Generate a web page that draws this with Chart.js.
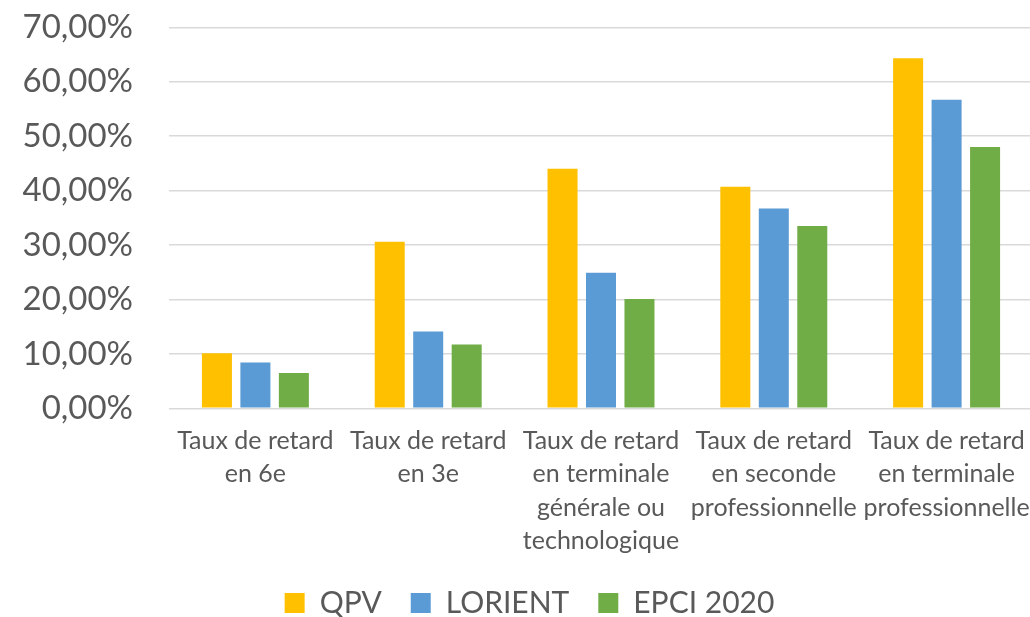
<!DOCTYPE html>
<html>
<head>
<meta charset="utf-8">
<script src="https://cdn.jsdelivr.net/npm/chart.js@4/dist/chart.umd.min.js"></script>
<style>
  html, body { margin: 0; padding: 0; background: #ffffff; overflow: hidden; }
  #wrap { width: 1034px; height: 617px; }
</style>
</head>
<body>
<div id="wrap"><canvas id="c" width="1034" height="617"></canvas></div>
<script>
const categories = [
  ["Taux de retard", "en 6e"],
  ["Taux de retard", "en 3e"],
  ["Taux de retard", "en terminale", "générale ou", "technologique"],
  ["Taux de retard", "en seconde", "professionnelle"],
  ["Taux de retard", "en terminale", "professionnelle"]
];
const seriesNames = ["QPV", "LORIENT", "EPCI 2020"];
const qpv = [10.1, 30.6, 44.0, 40.7, 64.3];
const lorient = [8.4, 14.1, 24.9, 36.7, 56.7];
const epci = [6.5, 11.7, 20.1, 33.5, 48.0];
const yTicks = [0, 10, 20, 30, 40, 50, 60, 70];

const colors = ["#FFC000", "#5B9BD5", "#70AD47"];
const textColor = "#595959";
const fontFamily = "Lato, 'Open Sans', sans-serif";

const legendShift = {
  id: 'legendShift',
  afterUpdate(chart) {
    const lg = chart.legend;
    if (lg) { lg.left += 13; lg.right += 13; }
  }
};

function draw() {
  new Chart(document.getElementById('c'), {
    type: 'bar',
    data: {
      labels: categories,
      datasets: [qpv, lorient, epci].map((d, i) => ({
        label: seriesNames[i],
        data: d,
        backgroundColor: colors[i],
        borderWidth: 0,
        categoryPercentage: 0.668,
        barPercentage: 0.78
      }))
    },
    options: {
      responsive: false,
      animation: false,
      devicePixelRatio: 1,
      layout: { padding: { top: 0, left: 0, right: 1, bottom: 0 } },
      scales: {
        x: {
          grid: { display: false, drawTicks: false },
          border: { display: false },
          ticks: {
            color: textColor,
            padding: 16,
            maxRotation: 0,
            autoSkip: false,
            font: { family: fontFamily, size: 25, lineHeight: 1.333 }
          },
          afterFit(scale) {
            scale.height = 150.7;
            scale.paddingLeft = 0;
            scale.paddingRight = 0;
          }
        },
        y: {
          min: 0,
          max: 70,
          afterBuildTicks(scale) { scale.ticks = yTicks.map(v => ({ value: v })); },
          grid: { color: "#d9d9d9", lineWidth: 1.5, drawTicks: false },
          border: { display: false },
          ticks: {
            color: textColor,
            padding: 36,
            font: { family: fontFamily, size: 33 },
            callback: v => v.toFixed(2).replace('.', ',') + '%'
          },
          afterFit(scale) {
            scale.width = 169;
            scale.paddingTop = 27.3;
            scale.paddingBottom = 20;
          }
        }
      },
      plugins: {
        legend: {
          position: 'bottom',
          maxHeight: 58,
          labels: {
            boxWidth: 20,
            boxHeight: 20,
            padding: 29,
            color: textColor,
            font: { family: fontFamily, size: 30 }
          }
        },
        tooltip: { enabled: false }
      }
    },
    plugins: [legendShift]
  });
}

if (document.fonts && document.fonts.load) {
  Promise.all([document.fonts.load("33px Lato"), document.fonts.load("25px Lato")]).then(draw, draw);
} else { draw(); }
</script>
</body>
</html>
